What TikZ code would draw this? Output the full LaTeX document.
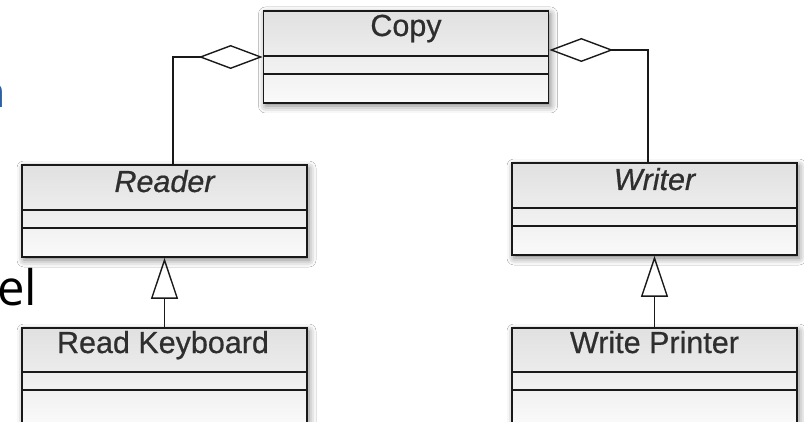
\documentclass[tikz,border=0pt]{standalone}
\usepackage{fontspec}
\setmainfont{Liberation Sans}
\newfontfamily\slidefont{Open Sans}
\newfontfamily\boxfont[FakeBold=0.6]{Liberation Sans}
\usetikzlibrary{arrows.meta,calc,shadows.blur}
\definecolor{slideblue}{RGB}{47,95,160}

\tikzset{
  classbox/.style={draw=black!90, line width=1.7pt, rectangle, inner sep=0pt,
    minimum width=285pt, minimum height=92pt,
    top color=black!12, bottom color=black!2,
    blur shadow={shadow xshift=2pt, shadow yshift=-3pt, shadow blur radius=7pt, shadow opacity=50}},
  compline/.style={draw=black!90, line width=1.7pt},
  classname/.style={anchor=base, text=black!82, font=\boxfont\fontsize{30.5}{32}\selectfont},
  aggregation/.style={draw=black!90, line width=1.4pt,
    {Diamond[open, length=64pt, width=24pt, line width=1.4pt]}-},
  generalization/.style={draw=black!90, line width=1.4pt,
    -{Triangle[open, length=41pt, width=27pt, line width=1.4pt]}},
}

\begin{document}
\begin{tikzpicture}[x=1pt, y=-1pt]
  \useasboundingbox (0,0) rectangle (804,422);
  \clip (0,0) rectangle (804,422);
  \fill[white] (0,0) rectangle (804,422);

  % fragments of the slide text at the left edge
  \node[anchor=base east, inner sep=0pt, text=slideblue,
        font=\slidefont\fontsize{43}{45}\selectfont] (slidetop) at (6.5,108) {n};
  \node[anchor=base east, inner sep=0pt, text=black,
        font=\slidefont\fontsize{49}{51}\selectfont] (slidelow) at (37.5,306) {vel};

  % class boxes
  \node[classbox] (copy)   at (406,57)    {};
  \node[classbox] (reader) at (164.5,211) {};
  \node[classbox] (writer) at (654.5,209) {};
  \node[classbox, minimum height=96pt] (readkb) at (164.5,376) {};
  \node[classbox, minimum height=96pt] (writepr) at (654.5,376) {};

  % compartment separators
  \foreach \c/\a/\b in {copy/46/64, reader/46/64, writer/46/64, readkb/45/63, writepr/45/63} {
    \draw[compline] ($(\c.north west)+(0,\a)$) -- ($(\c.north east)+(0,\a)$);
    \draw[compline] ($(\c.north west)+(0,\b)$) -- ($(\c.north east)+(0,\b)$);
  }

  % class names
  \node[classname] (copyname)   at (406,36)    {Copy};
  \node[classname, font=\boxfont\fontsize{30.5}{32}\selectfont\itshape] (readername) at (164.5,192) {Reader};
  \node[classname, font=\boxfont\fontsize{30.5}{32}\selectfont\itshape] (writername) at (654.5,190) {Writer};
  \node[classname] (readkbname)  at (163,353) {Read Keyboard};
  \node[classname] (writeprname) at (654.5,353) {Write Printer};

  % aggregations
  \draw[aggregation] (copy.west) -| ([xshift=8.5pt]reader.north);
  \draw[aggregation] ([yshift=7pt]copy.east) -| ([xshift=-6.5pt]writer.north);

  % generalizations
  \draw[generalization] (readkb.north) -- (reader.south);
  \draw[generalization] (writepr.north) -- (writer.south);
\end{tikzpicture}
\end{document}
